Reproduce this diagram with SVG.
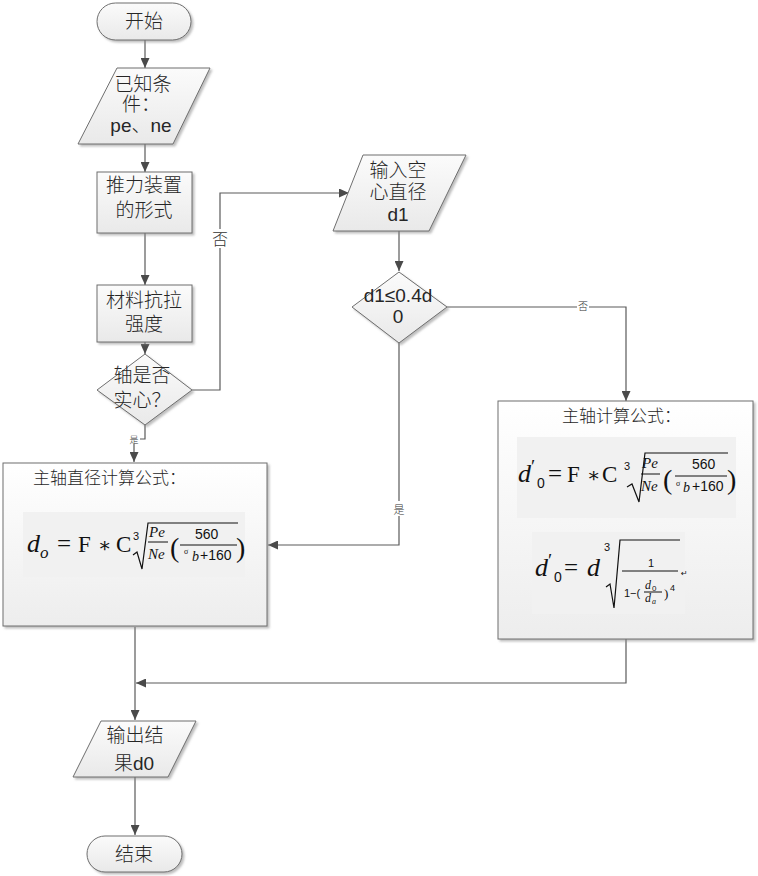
<svg xmlns="http://www.w3.org/2000/svg" width="758" height="876" viewBox="0 0 758 876">
<defs>
<linearGradient id="g" x1="0" y1="0" x2="0" y2="1">
<stop offset="0" stop-color="#fbfbfb"/>
<stop offset="1" stop-color="#e9e9e9"/>
</linearGradient>
<linearGradient id="gb" x1="0" y1="0" x2="0" y2="1">
<stop offset="0" stop-color="#ffffff"/>
<stop offset="1" stop-color="#ededed"/>
</linearGradient>
<filter id="sh" x="-10%" y="-10%" width="130%" height="130%">
<feDropShadow dx="2" dy="2" stdDeviation="1.2" flood-color="#888" flood-opacity="0.55"/>
</filter>
<marker id="ar" markerUnits="userSpaceOnUse" markerWidth="10" markerHeight="9" refX="10" refY="4.5" orient="auto">
<path d="M0,0 L10,4.5 L0,9 z" fill="#4a4a4a"/>
</marker>
<style>
.node{fill:url(#g);stroke:#6e6e6e;stroke-width:1;filter:url(#sh)}
.box{fill:url(#gb);stroke:#6e6e6e;stroke-width:1;filter:url(#sh)}
.fbg{fill:#f1f1f1;stroke:none}
.t{font-family:"Liberation Sans","Noto Sans CJK SC",sans-serif;font-size:19px;font-weight:300;fill:#262626;text-anchor:middle}
.tt{font-family:"Noto Sans CJK SC",sans-serif;font-size:17px;font-weight:300;fill:#262626}
.lb{font-family:"Noto Sans CJK SC",sans-serif;font-weight:300;fill:#333;text-anchor:middle}
.conn{fill:none;stroke:#5a5a5a;stroke-width:1.2}
.arr{marker-end:url(#ar)}
.m{font-family:"Liberation Serif","DejaVu Serif",serif;fill:#111}
.mi{font-family:"Liberation Serif","DejaVu Serif",serif;font-style:italic;fill:#111}
.mn{font-family:"Liberation Sans","DejaVu Sans",sans-serif;fill:#111}
.rad{fill:none;stroke:#111;stroke-width:1.2}
.bar{stroke:#111;stroke-width:1}
</style>
</defs>
<rect width="758" height="876" fill="#ffffff"/>

<g id="connectors">
<path class="conn arr" d="M145,40 L145,68"/>
<path class="conn arr" d="M145,144 L145,172"/>
<path class="conn arr" d="M145,233 L145,285"/>
<path class="conn arr" d="M145,342 L145,354"/>
<path class="conn arr" d="M192,390 L220,390 L220,193 L349,193"/>
<rect x="211" y="229" width="18" height="19" fill="#fff"/>
<text class="lb" x="220" y="245" font-size="16">否</text>
<path class="conn arr" d="M145,425 L145,439 L134,439 L134,462"/>
<rect x="128" y="433" width="12" height="11" fill="#fff"/>
<text class="lb" x="134" y="443" font-size="9">是</text>
<path class="conn arr" d="M399,231 L399,271"/>
<path class="conn arr" d="M447,307 L626,307 L626,401"/>
<rect x="577" y="300" width="12" height="11" fill="#fff"/>
<text class="lb" x="583" y="310" font-size="10">否</text>
<path class="conn arr" d="M399,343 L399,545 L268,545"/>
<rect x="392" y="501" width="14" height="15" fill="#fff"/>
<text class="lb" x="399" y="514" font-size="11">是</text>
<path class="conn arr" d="M135,627 L135,720"/>
<path class="conn arr" d="M626,639 L626,683 L136,683"/>
<path class="conn arr" d="M135,777 L135,835"/>
</g>

<g id="start">
<rect class="node" x="97" y="3" width="94" height="37" rx="18.5"/>
<text class="t" x="144" y="28">开始</text>
</g>

<g id="known">
<polygon class="node" points="117,68 210,68 173,144 78,144"/>
<text class="t" x="143" y="91">已知条</text>
<text class="t" x="141" y="111">件：</text>
<text class="t" x="141" y="132">pe、ne</text>
</g>

<g id="thrust">
<rect class="node" x="97" y="172" width="95" height="61"/>
<text class="t" x="144" y="192">推力装置</text>
<text class="t" x="144" y="217">的形式</text>
</g>

<g id="material">
<rect class="node" x="97" y="285" width="95" height="57"/>
<text class="t" x="144" y="307">材料抗拉</text>
<text class="t" x="144" y="331">强度</text>
</g>

<g id="solid">
<polygon class="node" points="145,354 192,390 145,425 97,390"/>
<text class="t" x="142" y="382">轴是否</text>
<text class="t" x="142" y="407">实心？</text>
</g>

<g id="input">
<polygon class="node" points="363,155 466,155 429,231 333,231"/>
<text class="t" x="398" y="177">输入空</text>
<text class="t" x="398" y="199">心直径</text>
<text class="t" x="398" y="221">d1</text>
</g>

<g id="check">
<polygon class="node" points="399,272 447,307 399,343 352,307"/>
<text class="t" x="398" y="302">d1≤0.4d</text>
<text class="t" x="398" y="323">0</text>
</g>

<g id="solidFormula">
<rect class="box" x="3" y="463" width="264" height="163"/>
<text class="tt" x="33" y="484">主轴直径计算公式：</text>
<rect class="fbg" x="23" y="512" width="222" height="65"/>
<text class="mi" x="27" y="552" font-size="26">d</text>
<text class="mi" x="40" y="558" font-size="17">o</text>
<text class="m" x="57" y="552" font-size="25">=</text>
<text class="m" x="78" y="552" font-size="23">F</text>
<text class="m" x="98" y="552" font-size="20">∗</text>
<text class="m" x="116" y="552" font-size="23">C</text>
<text class="mn" x="133" y="540" font-size="11">3</text>
<path class="rad" d="M133,555 L137,552 L142,569 L148,523 L238,523"/>
<text class="mi" x="149" y="537" font-size="15">Pe</text>
<line class="bar" x1="148" y1="542" x2="168" y2="542"/>
<text class="mi" x="148" y="559" font-size="15">Ne</text>
<text class="m" x="170" y="557" font-size="28">(</text>
<text class="mn" x="195" y="539" font-size="14">560</text>
<line class="bar" x1="180" y1="545" x2="237" y2="545"/>
<text class="m" x="184" y="554" font-size="8">σ</text>
<text class="mi" x="192" y="561" font-size="14">b</text>
<text class="mn" x="200" y="560" font-size="14">+160</text>
<text class="m" x="236" y="557" font-size="28">)</text>
</g>

<g id="hollowFormula">
<rect class="box" x="498" y="401" width="255" height="238"/>
<text class="tt" x="562" y="422">主轴计算公式：</text>
<rect class="fbg" x="517" y="437" width="219" height="81"/>
<text class="mi" x="518" y="482" font-size="26">d</text>
<text class="m" x="531" y="473" font-size="19">′</text>
<text class="mn" x="537" y="488" font-size="14">0</text>
<text class="m" x="548" y="482" font-size="25">=</text>
<text class="m" x="567" y="482" font-size="23">F</text>
<text class="m" x="587" y="482" font-size="20">∗</text>
<text class="m" x="602" y="482" font-size="23">C</text>
<text class="mn" x="624" y="470" font-size="11">3</text>
<path class="rad" d="M627,487 L632,484 L639,502 L645,453 L728,453"/>
<text class="mi" x="642" y="468" font-size="15">Pe</text>
<line class="bar" x1="641" y1="474" x2="660" y2="474"/>
<text class="mi" x="641" y="491" font-size="15">Ne</text>
<text class="m" x="663" y="489" font-size="28">(</text>
<text class="mn" x="692" y="469" font-size="14">560</text>
<line class="bar" x1="675" y1="476" x2="727" y2="476"/>
<text class="m" x="676" y="486" font-size="8">σ</text>
<text class="mi" x="683" y="492" font-size="14">b</text>
<text class="mn" x="692" y="491" font-size="14">+160</text>
<text class="m" x="727" y="489" font-size="28">)</text>

<rect class="fbg" x="532" y="532" width="153" height="82"/>
<text class="mi" x="535" y="576" font-size="26">d</text>
<text class="m" x="548" y="567" font-size="19">′</text>
<text class="mn" x="554" y="582" font-size="14">0</text>
<text class="m" x="564" y="576" font-size="25">=</text>
<text class="mi" x="587" y="576" font-size="26">d</text>
<text class="mn" x="604" y="551" font-size="11">3</text>
<path class="rad" d="M606,587 L610,584 L614,608 L620,540 L680,540"/>
<text class="mn" x="648" y="567" font-size="11">1</text>
<line class="bar" x1="622" y1="571" x2="678" y2="571"/>
<text class="mn" x="624" y="597" font-size="11">1−(</text>
<text class="mi" x="645" y="589" font-size="12">d</text>
<text class="mn" x="652" y="591" font-size="8">0</text>
<line class="bar" x1="644" y1="592" x2="662" y2="592"/>
<text class="mi" x="645" y="602" font-size="12">d</text>
<text class="mi" x="652" y="604" font-size="8">a</text>
<text class="m" x="664" y="598" font-size="13">)</text>
<text class="mn" x="670" y="591" font-size="9">4</text>
<text class="mn" x="681" y="576" font-size="8" fill="#888">↵</text>
</g>

<g id="output">
<polygon class="node" points="101,721 196,721 168,777 73,777"/>
<text class="t" x="135" y="742">输出结</text>
<text class="t" x="134" y="770">果d0</text>
</g>

<g id="end">
<rect class="node" x="87" y="836" width="95" height="36" rx="18"/>
<text class="t" x="134" y="861">结束</text>
</g>
</svg>
